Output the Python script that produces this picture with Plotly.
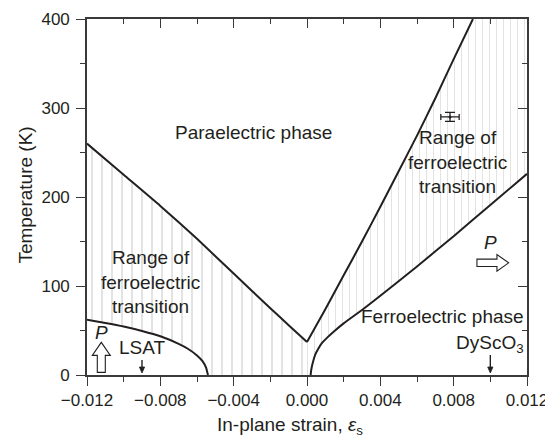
import plotly.graph_objects as go

# ---------------- data ----------------
# upper boundary of the ferroelectric transition range, compressive side
upper_left_x = [-0.012, -0.010, -0.008, -0.006, -0.004, -0.002, -0.001, 0.0]
upper_left_T = [260, 225, 190, 153, 114, 75, 56, 37]

# upper boundary, tensile side
upper_right_x = [0.0, 0.001, 0.002, 0.003, 0.004, 0.005, 0.006, 0.007, 0.008, 0.00905]
upper_right_T = [37, 74, 112, 150, 189, 229, 269, 311, 355, 400]

# lower boundary (ferroelectric phase with P out of plane), compressive side
lower_left_x = [-0.012, -0.011, -0.010, -0.009, -0.008, -0.007, -0.0065, -0.006,
                -0.0057, -0.0055, -0.00545, -0.0054]
lower_left_T = [62, 58.5, 54.5, 49.5, 43.5, 35, 29.5, 22, 15.5, 8, 4, 0]

# lower boundary (ferroelectric phase with P in plane), tensile side
lower_right_x = [0.0002, 0.00022, 0.00026, 0.00033, 0.00045, 0.0006, 0.0008, 0.0011,
                 0.0015, 0.002, 0.003, 0.004, 0.006, 0.008, 0.010, 0.012]
lower_right_T = [0, 4, 9, 15, 23, 29, 35.5, 42, 49.5, 58, 73, 89, 122, 156, 191, 226]

# measured point with error bars
meas_x = [0.0078]
meas_T = [290]
meas_xerr = [0.0005]
meas_Terr = [5]

# substrates
lsat_x = -0.009
dysco_x = 0.010

x_ticks = [-0.012, -0.008, -0.004, 0.0, 0.004, 0.008, 0.012]
T_ticks = [0, 100, 200, 300, 400]
X_MIN, X_MAX = -0.012, 0.012
T_MIN, T_MAX = 0, 400

# ---------------- style ----------------
FONT = "Liberation Sans, Arial, Helvetica, sans-serif"
INK = "#231f20"
AX = "#3a3a3a"
TXT = 19

fig = go.Figure()

# hatched region, compressive side
left_poly_x = upper_left_x + [0.0] + lower_left_x[::-1]
left_poly_T = upper_left_T + [T_MIN] + lower_left_T[::-1]
fig.add_trace(go.Scatter(
    x=left_poly_x, y=left_poly_T, mode="lines", fill="toself",
    fillcolor="rgba(255,255,255,0)", line=dict(width=0), hoverinfo="skip",
    fillpattern=dict(shape="|", size=10, solidity=0.13, fgcolor="#a8a8a8",
                     bgcolor="rgba(255,255,255,0)"),
    showlegend=False))

# hatched region, tensile side
right_poly_x = [0.0] + upper_right_x + [X_MAX] + lower_right_x[::-1]
right_poly_T = [T_MIN] + upper_right_T + [T_MAX] + lower_right_T[::-1]
fig.add_trace(go.Scatter(
    x=right_poly_x, y=right_poly_T, mode="lines", fill="toself",
    fillcolor="rgba(255,255,255,0)", line=dict(width=0), hoverinfo="skip",
    fillpattern=dict(shape="|", size=7, solidity=0.15, fgcolor="#c8c8c8",
                     bgcolor="rgba(255,255,255,0)"),
    showlegend=False))

for bx, bT in [(upper_left_x, upper_left_T), (upper_right_x, upper_right_T),
               (lower_left_x, lower_left_T), (lower_right_x, lower_right_T)]:
    fig.add_trace(go.Scatter(x=bx, y=bT, mode="lines",
                             line=dict(color=INK, width=2, shape="spline", smoothing=0.5),
                             showlegend=False, hoverinfo="skip"))

fig.add_trace(go.Scatter(
    x=meas_x, y=meas_T, mode="markers",
    marker=dict(size=3, color=INK),
    error_x=dict(type="data", array=meas_xerr, color=INK, thickness=1.3, width=3),
    error_y=dict(type="data", array=meas_Terr, color=INK, thickness=1.3, width=5),
    showlegend=False))

axis_common = dict(showline=True, linecolor=AX, linewidth=1.6, showgrid=False,
                   zeroline=False, tickcolor=AX, tickwidth=1.4, automargin=False,
                   tickfont=dict(family=FONT, size=17, color=INK))

# the page body adds an 8 px offset, so margins are shifted to compensate
fig.update_layout(
    width=545, height=438,
    margin=dict(l=79, r=26, t=11, b=71, autoexpand=False),
    paper_bgcolor="white", plot_bgcolor="white",
    font=dict(family=FONT, size=TXT, color=INK),
    xaxis=dict(range=[X_MIN, X_MAX], tickvals=x_ticks, tickformat=".3f",
               ticks="outside", ticklen=9,
               minor=dict(dtick=0.002, tick0=X_MIN, ticks="outside", ticklen=5,
                          tickcolor=AX, tickwidth=1.4),
               ticklabelstandoff=0, **axis_common),
    yaxis=dict(range=[T_MIN, T_MAX], tickvals=T_ticks,
               ticks="outside", ticklen=9,
               minor=dict(dtick=50, tick0=0, ticks="outside", ticklen=5,
                          tickcolor=AX, tickwidth=1.4),
               ticklabelstandoff=3, **axis_common),
    xaxis2=dict(range=[X_MIN, X_MAX], overlaying="x", side="top", anchor="y",
                tickvals=x_ticks, ticks="inside", ticklen=9, showticklabels=False,
                minor=dict(dtick=0.002, tick0=X_MIN, ticks="inside", ticklen=5,
                           tickcolor=AX, tickwidth=1.4),
                **axis_common),
    yaxis2=dict(range=[T_MIN, T_MAX], overlaying="y", side="right", anchor="x",
                tickvals=T_ticks, ticks="inside", ticklen=9, showticklabels=False,
                minor=dict(dtick=50, tick0=0, ticks="inside", ticklen=5,
                           tickcolor=AX, tickwidth=1.4),
                **axis_common),
)

# invisible trace to activate the mirrored axes
fig.add_trace(go.Scatter(x=[X_MIN], y=[T_MIN], xaxis="x2", yaxis="y2", mode="markers",
                         marker=dict(opacity=0), showlegend=False, hoverinfo="skip"))

ann = [
    dict(x=-0.0029, y=272, text="Paraelectric phase"),
    dict(x=-0.00854, y=104, text="Range of<br>ferroelectric<br>transition"),
    dict(x=0.00823, y=239, text="Range of<br>ferroelectric<br>transition"),
    dict(x=0.01196, y=66, text="Ferroelectric phase", xanchor="right"),
    dict(x=0.01196, y=35, text="DyScO<sub>3</sub>", xanchor="right"),
    dict(x=-0.0090, y=30.5, text="LSAT"),
    dict(x=-0.01122, y=48, text="<i>P</i>"),
    dict(x=0.0100, y=148.5, text="<i>P</i>"),
]
for a in ann:
    a.setdefault("xanchor", "center")
    fig.add_annotation(xref="x", yref="y", showarrow=False, yanchor="middle",
                       font=dict(family=FONT, size=TXT, color=INK), **a)

# substrate markers (thin down arrows, pixel-sized, anchored at the substrate strain)
for sx, length in [(lsat_x, 15), (dysco_x, 20)]:
    fig.add_shape(type="line", xref="x", yref="y", xsizemode="pixel", ysizemode="pixel",
                  xanchor=sx, yanchor=T_MIN, x0=0, x1=0, y0=6, y1=length,
                  line=dict(color=INK, width=1.4))
    fig.add_shape(type="path", xref="x", yref="y", xsizemode="pixel", ysizemode="pixel",
                  xanchor=sx, yanchor=T_MIN,
                  path="M -2.6,8 L 2.6,8 L 0,2 Z",
                  line=dict(color=INK, width=0.8), fillcolor=INK)

# axis titles
fig.add_annotation(x=0.462, y=-0.142, xref="paper", yref="paper", showarrow=False,
                   text="In-plane strain, <i>ε</i><sub>s</sub>", yanchor="middle",
                   font=dict(family=FONT, size=TXT, color=INK))
fig.add_annotation(x=-0.14, y=0.505, xref="paper", yref="paper", showarrow=False,
                   text="Temperature (K)", textangle=-90, xanchor="center",
                   yanchor="middle", font=dict(family=FONT, size=TXT, color=INK))

# open block arrows for polarization direction (pixel-sized, anchored in data)
fig.add_shape(type="path", xref="x", yref="y", xsizemode="pixel", ysizemode="pixel",
              xanchor=-0.01122, yanchor=3,
              path="M -4,0 L 4,0 L 4,17 L 9,17 L 0,30 L -9,17 L -4,17 Z",
              line=dict(color=INK, width=1.1), fillcolor="white")
fig.add_shape(type="path", xref="x", yref="y", xsizemode="pixel", ysizemode="pixel",
              xanchor=0.00927, yanchor=126,
              path="M 0,-3.7 L 20,-3.7 L 20,-8.3 L 31.7,0 L 20,8.3 L 20,3.7 L 0,3.7 Z",
              line=dict(color=INK, width=1.1), fillcolor="white")

fig.write_html("out.html")
